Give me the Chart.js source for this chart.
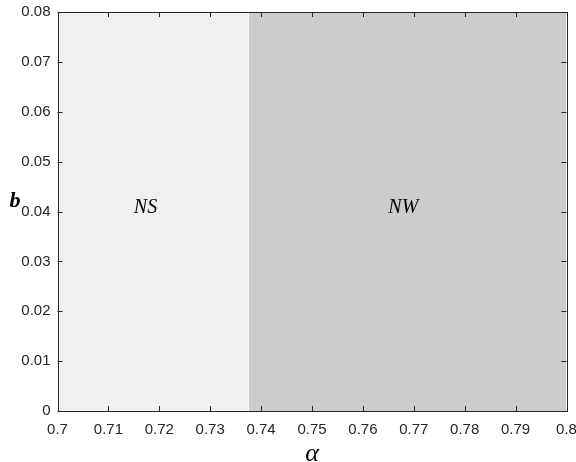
<!DOCTYPE html>
<html>
<head>
<meta charset="utf-8">
<script src="https://cdn.jsdelivr.net/npm/chart.js@4/dist/chart.umd.min.js"></script>
<style>
  html, body { margin: 0; padding: 0; background: #fff; }
  #wrap { width: 576px; height: 462px; }
</style>
</head>
<body>
<div id="wrap"><canvas id="myChart"></canvas></div>
<script>
// данные графика
const regionStart = [0.7, 0.7376];   // где начинается область по alpha
const regionEnd = [0.7376, 0.8];     // где заканчивается
const regionTop = [0.08, 0.08];      // верх областей по b
const regionName = ['NS', 'NW'];
const nameX = [0.715, 0.765];        // подписи областей
const nameY = [0.04, 0.04];
const xTicks = [0.7, 0.71, 0.72, 0.73, 0.74, 0.75, 0.76, 0.77, 0.78, 0.79, 0.8];
const yTicks = [0, 0.01, 0.02, 0.03, 0.04, 0.05, 0.06, 0.07, 0.08];

const regionColors = ['#f0f0f0', '#cccccc'];
const axisColor = '#262626';
const tickFont = { family: '"Liberation Sans", Arial, sans-serif', size: 15 };

const fmt = v => Number(Number(v).toFixed(2)).toString();

// рамка, внутренние засечки и подписи
const boxPlugin = {
  id: 'box',
  afterDatasetsDraw(chart) {
    const c = chart.ctx;
    const a = chart.chartArea;
    const xs = chart.scales.x, ys = chart.scales.y;
    c.save();

    // подписи областей
    c.fillStyle = '#000';
    c.font = 'italic 20px "Liberation Serif", "Times New Roman", serif';
    c.textAlign = 'left';
    c.textBaseline = 'alphabetic';
    regionName.forEach((n, i) => {
      c.fillText(n, xs.getPixelForValue(nameX[i]), ys.getPixelForValue(nameY[i]) + 1);
    });

    // рамка
    c.strokeStyle = axisColor;
    c.lineWidth = 1;
    c.strokeRect(Math.round(a.left) + 0.5, Math.round(a.top) + 0.5,
      Math.round(a.right - a.left), Math.round(a.bottom - a.top));

    // засечки внутрь на всех сторонах
    c.beginPath();
    xTicks.forEach(v => {
      const px = Math.round(xs.getPixelForValue(v)) + 0.5;
      c.moveTo(px, a.bottom); c.lineTo(px, a.bottom - 5);
      c.moveTo(px, a.top); c.lineTo(px, a.top + 5);
    });
    yTicks.forEach(v => {
      const py = Math.round(ys.getPixelForValue(v)) + 0.5;
      c.moveTo(a.left, py); c.lineTo(a.left + 5, py);
      c.moveTo(a.right, py); c.lineTo(a.right - 5, py);
    });
    c.stroke();

    // подписи осей
    c.fillStyle = '#000';
    c.textAlign = 'center';
    c.font = 'italic 26px "Liberation Serif", "Times New Roman", serif';
    c.fillText('\u03b1', (a.left + a.right) / 2, 461);
    c.font = 'bold italic 22px "Liberation Serif", "Times New Roman", serif';
    c.fillText('b', 15, 207);
    c.restore();
  }
};

const datasets = regionName.map((n, i) => ({
  label: n,
  data: [{ x: regionStart[i], y: regionTop[i] }, { x: regionEnd[i], y: regionTop[i] }],
  showLine: true,
  fill: 'origin',
  backgroundColor: regionColors[i],
  borderWidth: 0,
  pointRadius: 0
}));

new Chart(document.getElementById('myChart').getContext('2d'), {
  type: 'scatter',
  data: { datasets: datasets },
  options: {
    responsive: true,
    maintainAspectRatio: false,
    animation: false,
    layout: { padding: { top: 12, right: 9.5, left: 0, bottom: 0 } },
    plugins: { legend: { display: false }, tooltip: { enabled: false } },
    scales: {
      x: {
        type: 'linear',
        min: 0.7, max: 0.8,
        afterFit: s => { s.height = 51; s.paddingLeft = 0; s.paddingRight = 0; },
        afterBuildTicks: s => { s.ticks = xTicks.map(v => ({ value: v })); },
        grid: { display: false, drawTicks: false },
        border: { display: false },
        ticks: { color: axisColor, font: tickFont, padding: 10, maxRotation: 0, autoSkip: false, callback: fmt }
      },
      y: {
        type: 'linear',
        min: 0, max: 0.08,
        afterFit: s => { s.width = 57.5; s.paddingTop = 0; s.paddingBottom = 0; },
        afterBuildTicks: s => { s.ticks = yTicks.map(v => ({ value: v })); },
        grid: { display: false, drawTicks: false },
        border: { display: false },
        ticks: { color: axisColor, font: tickFont, padding: 7, autoSkip: false, callback: fmt }
      }
    }
  },
  plugins: [boxPlugin]
});
</script>
</body>
</html>
